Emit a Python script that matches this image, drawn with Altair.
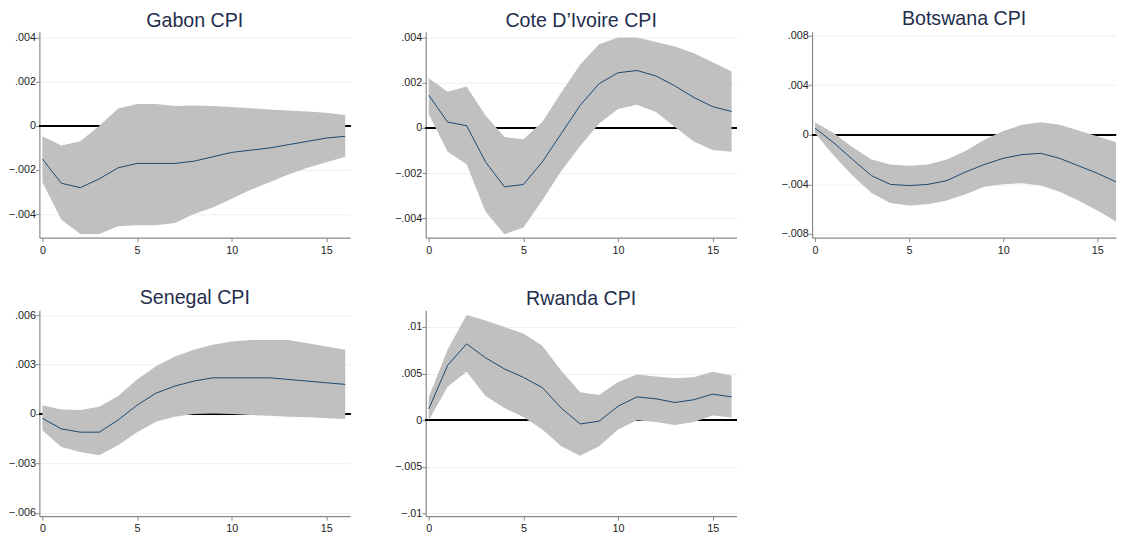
import altair as alt
import pandas as pd

steps = list(range(17))

gabon_mid = [-0.0015, -0.0026, -0.0028, -0.0024, -0.0019, -0.0017, -0.0017, -0.0017, -0.0016, -0.0014, -0.0012, -0.0011, -0.0010, -0.00085, -0.0007, -0.00055, -0.00047]
gabon_hi = [-0.00047, -0.00089, -0.0007, 0.0, 0.00079, 0.001, 0.001, 0.0009, 0.00093, 0.0009, 0.00086, 0.0008, 0.00075, 0.0007, 0.00065, 0.0006, 0.0005]
gabon_lo = [-0.00255, -0.00425, -0.0049, -0.0049, -0.00455, -0.0045, -0.0045, -0.0044, -0.004, -0.0037, -0.0033, -0.0029, -0.00255, -0.0022, -0.0019, -0.00165, -0.0014]

cote_mid = [0.00145, 0.00026, 0.0001, -0.0015, -0.0026, -0.0025, -0.0015, -0.00025, 0.001, 0.00196, 0.00244, 0.00254, 0.0023, 0.00186, 0.00135, 0.00094, 0.00073]
cote_hi = [0.0022, 0.0016, 0.00183, 0.00055, -0.0004, -0.0005, 0.00026, 0.00157, 0.0028, 0.0037, 0.004, 0.004, 0.0038, 0.0036, 0.0033, 0.0029, 0.0025]
cote_lo = [0.00062, -0.00105, -0.0016, -0.0037, -0.0047, -0.0044, -0.0032, -0.0019, -0.0008, 0.0002, 0.00084, 0.00103, 0.0007, 0.00004, -0.0006, -0.00097, -0.00105]

bots_mid = [0.00053, -0.00066, -0.002, -0.0033, -0.004, -0.0041, -0.004, -0.0037, -0.003, -0.0024, -0.0019, -0.0016, -0.0015, -0.0019, -0.0025, -0.0031, -0.0038]
bots_hi = [0.001, 0.00013, -0.001, -0.002, -0.0024, -0.0025, -0.0024, -0.002, -0.0013, -0.0004, 0.0003, 0.0008, 0.001, 0.0008, 0.00035, -0.00013, -0.0006]
bots_lo = [0.00013, -0.0017, -0.0033, -0.0047, -0.0055, -0.0057, -0.0056, -0.0053, -0.0048, -0.0042, -0.004, -0.0039, -0.0041, -0.0046, -0.0053, -0.0061, -0.007]

sene_mid = [-0.00026, -0.0009, -0.0011, -0.0011, -0.00036, 0.00054, 0.00127, 0.0017, 0.002, 0.0022, 0.0022, 0.0022, 0.0022, 0.0021, 0.002, 0.0019, 0.0018]
sene_hi = [0.00054, 0.00028, 0.00024, 0.00044, 0.0011, 0.0021, 0.0029, 0.0035, 0.0039, 0.0042, 0.0044, 0.0045, 0.0045, 0.0045, 0.0043, 0.0041, 0.0039]
sene_lo = [-0.001, -0.002, -0.0023, -0.0025, -0.0019, -0.0011, -0.00046, -0.00016, 0.0, 0.00004, 0.0, -0.00006, -0.0001, -0.00016, -0.0002, -0.00026, -0.0003]

rwan_mid = [0.0012, 0.0059, 0.0082, 0.0067, 0.0055, 0.0046, 0.0035, 0.0013, -0.0004, -0.0001, 0.0015, 0.0025, 0.0023, 0.0019, 0.0022, 0.0028, 0.0025]
rwan_hi = [0.0025, 0.0076, 0.0113, 0.0107, 0.01, 0.0093, 0.008, 0.0053, 0.003, 0.0027, 0.0041, 0.0049, 0.0047, 0.0045, 0.0046, 0.0052, 0.0048]
rwan_lo = [0.0, 0.0036, 0.0052, 0.0026, 0.0013, 0.00035, -0.001, -0.0028, -0.0038, -0.0028, -0.001, 0.0, -0.0002, -0.0005, -0.0002, 0.0005, 0.0003]

FONT = "Liberation Sans"
AREA = "#c0c0c0"
LINE = "#1a476f"


def panel(title, mid, lo, hi, domain, ticks, width=317, xmax=16.26):
    df = pd.DataFrame({"step": steps, "mid": mid, "lo": lo, "hi": hi})
    x = alt.X("step:Q", scale=alt.Scale(domain=[-0.16, xmax], nice=False, zero=False),
              axis=alt.Axis(values=[0, 5, 10, 15], title=None, grid=False, format="d"))
    yaxis = alt.Axis(values=ticks, title=None, grid=True,
                     labelExpr="replace(format(datum.value, '~g'), '0.', '.')",
                     minExtent=26, maxExtent=26)
    yscale = alt.Scale(domain=domain, nice=False, zero=False)
    base = alt.Chart(df)
    zero = base.mark_rule(color="black", strokeWidth=1.6).encode(
        y=alt.datum(0, scale=yscale, axis=yaxis, type="quantitative"))
    band = base.mark_area(color=AREA, opacity=1).encode(
        x=x, y=alt.Y("lo:Q", scale=yscale, axis=yaxis), y2="hi:Q")
    line = base.mark_line(color=LINE, strokeWidth=1).encode(
        x=x, y=alt.Y("mid:Q", scale=yscale, axis=yaxis))
    return alt.layer(zero, band, line).properties(
        width=width, height=210,
        title=alt.TitleParams(title, fontSize=20, font=FONT, color="#1f2d4d",
                              fontWeight="normal", anchor="middle", offset=1))


p1 = panel("Gabon CPI", gabon_mid, gabon_lo, gabon_hi, [-0.00507, 0.00427],
           [-0.004, -0.002, 0, 0.002, 0.004])
p2 = panel("Cote D\u2019Ivoire CPI", cote_mid, cote_lo, cote_hi, [-0.00485, 0.00425],
           [-0.004, -0.002, 0, 0.002, 0.004])
p3 = panel("Botswana CPI", bots_mid, bots_lo, bots_hi, [-0.0083, 0.0083],
           [-0.008, -0.004, 0, 0.004, 0.008], width=310, xmax=16.0)
p4 = panel("Senegal CPI", sene_mid, sene_lo, sene_hi, [-0.0062, 0.0063],
           [-0.006, -0.003, 0, 0.003, 0.006])
p5 = panel("Rwanda CPI", rwan_mid, rwan_lo, rwan_hi, [-0.0103, 0.0118],
           [-0.01, -0.005, 0, 0.005, 0.01])

row1 = alt.hconcat(p1, p2, p3, spacing=44)
row2 = alt.hconcat(p4, p5, spacing=44)

chart = alt.vconcat(row1, row2, spacing=34).properties(
    padding={"left": 0, "top": -5, "right": 0, "bottom": 0}
).configure_view(
    stroke=None
).configure_axis(
    labelFont=FONT, labelFontSize=11, labelColor="#222222",
    domainColor="#888888", tickColor="#888888", tickSize=4, domainWidth=1.2,
    gridColor="#eaf1f3", gridWidth=1, labelPadding=0
).configure_axisX(labelPadding=3)

chart.save("out.html", embed_options={"renderer": "svg", "actions": False})
